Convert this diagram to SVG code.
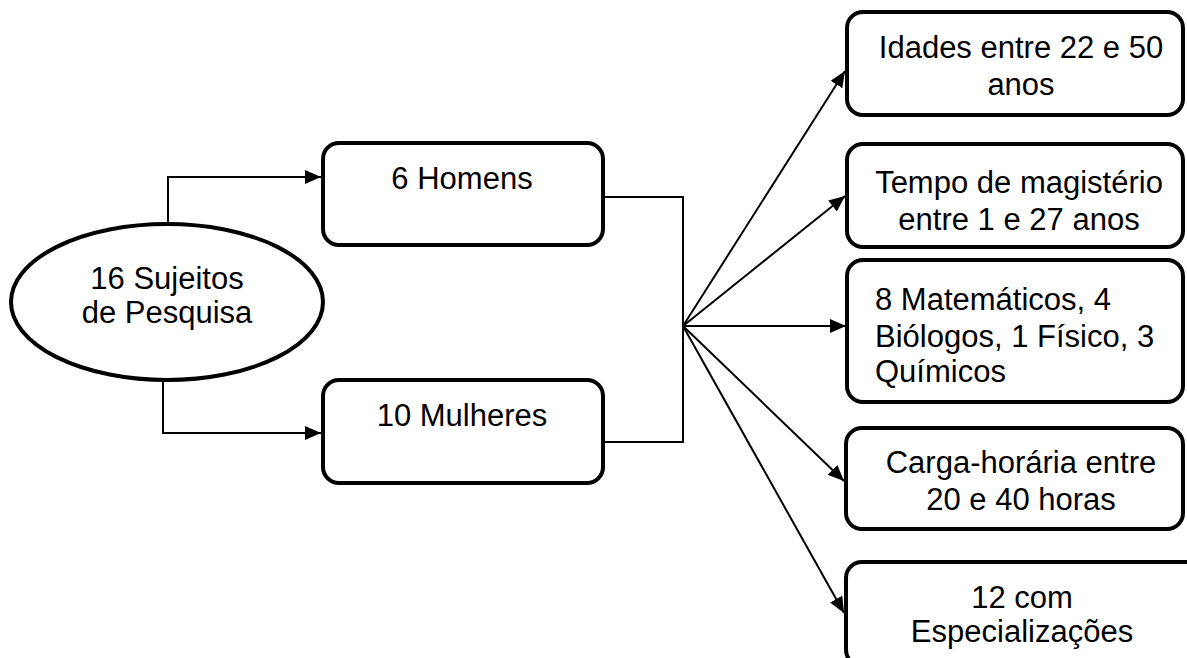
<svg xmlns="http://www.w3.org/2000/svg" width="1187" height="658" viewBox="0 0 1187 658">
<style>
.node{fill:#fff;stroke:#000;stroke-width:4}
.t{font-family:"Liberation Sans",Arial,sans-serif;font-size:31px;fill:#000}
.c{text-anchor:middle}
.ln{fill:none;stroke:#000;stroke-width:2}
</style>
<defs>
<marker id="ah" markerUnits="userSpaceOnUse" markerWidth="18" markerHeight="14" refX="16" refY="7" orient="auto">
<path d="M0,0 L16,7 L0,14 Z" fill="#000"/>
</marker>
</defs>
<rect width="1187" height="658" fill="#fff"/>
<g id="connectors">
<path class="ln" d="M168,224 V177 H321" marker-end="url(#ah)"/>
<path class="ln" d="M163,380 V433 H321" marker-end="url(#ah)"/>
<path class="ln" d="M603,197 H683 V442 H603"/>
<path class="ln" d="M683,326 L845,71" marker-end="url(#ah)"/>
<path class="ln" d="M683,326 L845,196" marker-end="url(#ah)"/>
<path class="ln" d="M683,326 L846,326" marker-end="url(#ah)"/>
<path class="ln" d="M683,326 L844,481" marker-end="url(#ah)"/>
<path class="ln" d="M683,326 L844,613" marker-end="url(#ah)"/>
</g>
<g id="sujeitos">
<ellipse class="node" cx="167" cy="302" rx="156" ry="78"/>
<text class="t c" x="167" y="289">16 Sujeitos</text>
<text class="t c" x="167" y="323">de Pesquisa</text>
</g>
<g id="homens">
<rect class="node" x="323" y="143" width="280" height="102" rx="16"/>
<text class="t c" x="462" y="189">6 Homens</text>
</g>
<g id="mulheres">
<rect class="node" x="323" y="380" width="280" height="103" rx="16"/>
<text class="t c" x="462" y="426">10 Mulheres</text>
</g>
<g id="idades">
<rect class="node" x="847" y="12" width="336" height="103" rx="16"/>
<text class="t c" x="1021" y="58">Idades entre 22 e 50</text>
<text class="t c" x="1021" y="95">anos</text>
</g>
<g id="tempo">
<rect class="node" x="847" y="144" width="336" height="103" rx="16"/>
<text class="t c" x="1019" y="193">Tempo de magistério</text>
<text class="t c" x="1019" y="230">entre 1 e 27 anos</text>
</g>
<g id="formacao">
<rect class="node" x="847" y="260" width="336" height="142" rx="16"/>
<text class="t" x="875" y="310">8 Matemáticos, 4</text>
<text class="t" x="875" y="347">Biólogos, 1 Físico, 3</text>
<text class="t" x="875" y="382">Químicos</text>
</g>
<g id="carga">
<rect class="node" x="846" y="428" width="337" height="101" rx="16"/>
<text class="t c" x="1021" y="473">Carga-horária entre</text>
<text class="t c" x="1021" y="510">20 e 40 horas</text>
</g>
<g id="especializacoes">
<rect class="node" x="846" y="562" width="360" height="104" rx="16"/>
<text class="t c" x="1022" y="608">12 com</text>
<text class="t c" x="1022" y="642">Especializações</text>
</g>
</svg>
